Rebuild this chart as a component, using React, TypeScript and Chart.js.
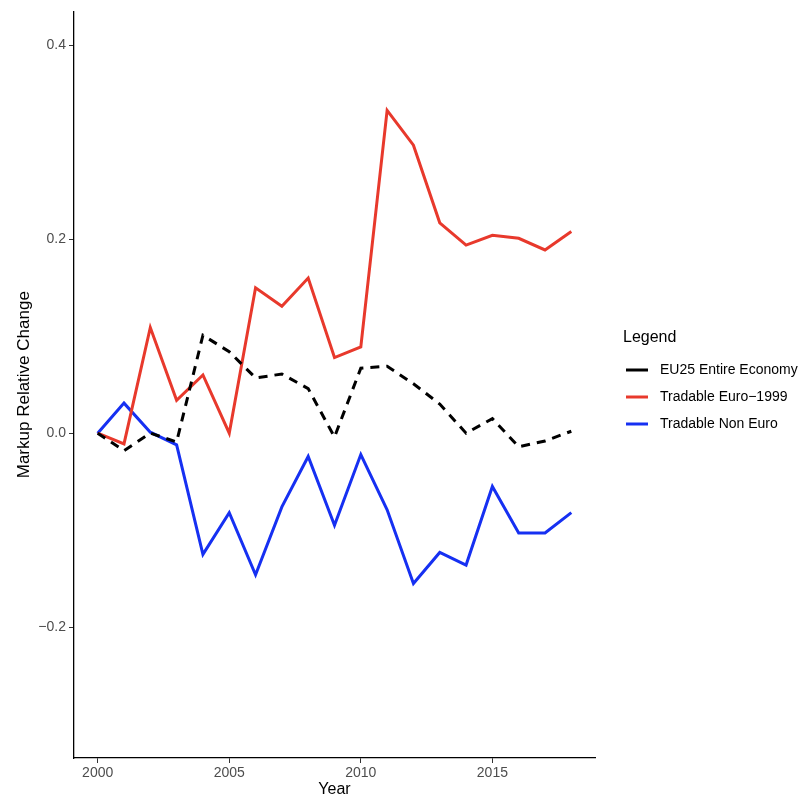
import React, { useEffect, useRef } from "react";
import { Chart, registerables } from "chart.js";

Chart.register(...registerables);

const years = [2000, 2001, 2002, 2003, 2004, 2005, 2006, 2007, 2008, 2009, 2010, 2011, 2012, 2013, 2014, 2015, 2016, 2017, 2018];
const eu25Entire = [0, -0.018, 0.0, -0.009, 0.101, 0.084, 0.057, 0.061, 0.046, -0.004, 0.067, 0.069, 0.051, 0.03, 0.0, 0.015, -0.014, -0.008, 0.002];
const tradableEuro1999 = [0, -0.011, 0.109, 0.034, 0.06, 0.0, 0.15, 0.131, 0.16, 0.078, 0.089, 0.333, 0.297, 0.217, 0.194, 0.204, 0.201, 0.189, 0.208];
const tradableNonEuro = [0, 0.031, 0.001, -0.012, -0.125, -0.082, -0.146, -0.076, -0.024, -0.095, -0.022, -0.079, -0.155, -0.123, -0.136, -0.055, -0.103, -0.103, -0.082];
const yTicks = [-0.2, 0, 0.2, 0.4];
const xTicks = [2000, 2005, 2010, 2015];
const seriesLabels = ["EU25 Entire Economy", "Tradable Euro\u22121999", "Tradable Non Euro"];
const legendTitle = "Legend";

const FONT = "'Liberation Sans', Arial, Helvetica, sans-serif";

const legendPlugin = {
  id: "customLegend",
  afterDraw(chart: any) {
    const ctx = chart.ctx;
    const area = chart.chartArea;
    ctx.save();
    const x0 = area.right + 28;
    ctx.fillStyle = "#000";
    ctx.font = `16px ${FONT}`;
    ctx.textBaseline = "middle";
    ctx.textAlign = "left";
    ctx.fillText(legendTitle, x0, 338);
    chart.data.datasets.forEach((ds: any, i: number) => {
      const y = 370 + i * 27;
      ctx.beginPath();
      ctx.strokeStyle = ds.borderColor;
      ctx.lineWidth = 3;
      ctx.setLineDash([]);
      ctx.moveTo(x0 + 3, y);
      ctx.lineTo(x0 + 25, y);
      ctx.stroke();
      ctx.fillStyle = "#000";
      ctx.font = `14px ${FONT}`;
      ctx.fillText(ds.label, x0 + 37, y);
    });
    ctx.restore();
  },
};

export default function App() {
  const ref = useRef<HTMLCanvasElement>(null);
  useEffect(() => {
    if (!ref.current) return;
    const mk = (arr: number[]) => years.map((y, i) => ({ x: y, y: arr[i] }));
    const chart = new Chart(ref.current, {
      type: "line",
      data: {
        datasets: [
          { label: seriesLabels[0], data: mk(eu25Entire), borderColor: "#000000", borderWidth: 3, borderDash: [9, 7], pointRadius: 0, tension: 0, fill: false },
          { label: seriesLabels[1], data: mk(tradableEuro1999), borderColor: "#e8392c", borderWidth: 3, pointRadius: 0, tension: 0, fill: false },
          { label: seriesLabels[2], data: mk(tradableNonEuro), borderColor: "#1630f2", borderWidth: 3, pointRadius: 0, tension: 0, fill: false },
        ],
      },
      options: {
        animation: false,
        responsive: false,
        maintainAspectRatio: false,
        layout: { padding: { left: 0, right: 208, top: 5, bottom: 0 } },
        plugins: { legend: { display: false }, tooltip: { enabled: false } },
        scales: {
          x: {
            type: "linear",
            min: 1999.1,
            max: 2018.9,
            afterBuildTicks: (s: any) => { s.ticks = xTicks.map((v) => ({ value: v })); },
            afterFit: (s: any) => { s.height = 42; },
            ticks: { color: "#4d4d4d", font: { family: FONT, size: 14 }, padding: 2, maxRotation: 0, callback: (v: any) => String(v) },
            grid: { display: true, drawOnChartArea: false, drawTicks: true, tickLength: 5, color: "#333", lineWidth: 1 },
            border: { display: true, color: "#000", width: 1.3 },
            title: { display: true, text: "Year", color: "#000", font: { family: FONT, size: 16 }, padding: { top: 0, bottom: 1 } },
          },
          y: {
            type: "linear",
            min: -0.335,
            max: 0.435,
            afterBuildTicks: (s: any) => { s.ticks = yTicks.map((v) => ({ value: v })); },
            afterFit: (s: any) => { s.width = 74; },
            ticks: {
              color: "#4d4d4d",
              font: { family: FONT, size: 14 },
              padding: 3,
              callback: (v: any) => { const n = Number(v); const s = Math.abs(n).toFixed(1); return n < -1e-9 ? "\u2212" + s : s; },
            },
            grid: { display: true, drawOnChartArea: false, drawTicks: true, tickLength: 5, color: "#333", lineWidth: 1 },
            border: { display: true, color: "#000", width: 1.3 },
            title: { display: true, text: "Markup Relative Change", color: "#000", font: { family: FONT, size: 17 }, padding: { top: 14, bottom: 0 } },
          },
        },
      },
      plugins: [legendPlugin],
    } as any);
    return () => chart.destroy();
  }, []);
  return (
    <div style={{ position: "absolute", left: 0, top: 0, width: 803, height: 800, background: "#fff" }}>
      <canvas ref={ref} width={803} height={800} style={{ width: 803, height: 800, display: "block" }} />
    </div>
  );
}
